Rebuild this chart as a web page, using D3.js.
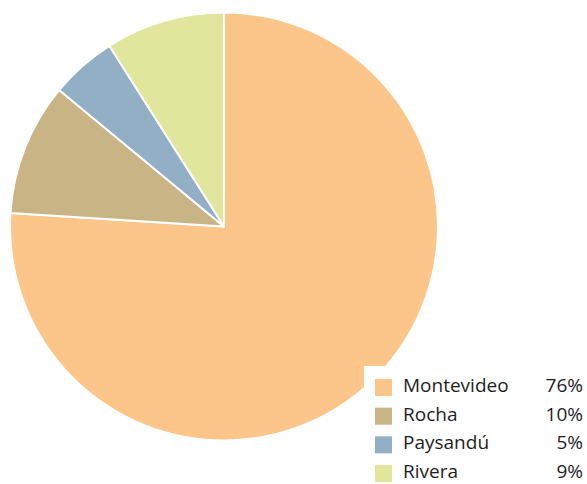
<!DOCTYPE html>
<html>
<head>
<meta charset="utf-8">
<script src="https://cdn.jsdelivr.net/npm/d3@7"></script>
<style>
  body { margin: 0; background: #fff; overflow: hidden; }
  text { font-family: "Open Sans", "Noto Sans", sans-serif; }
</style>
</head>
<body>
<svg id="chart" width="587" height="484"></svg>
<script>
const categories = ["Montevideo", "Rocha", "Paysandú", "Rivera"];
const values = [76, 10, 5, 9];
const labels = ["76%", "10%", "5%", "9%"];
const colors = ["#fcc68a", "#c8b484", "#92afc6", "#e0e79c"];

const width = 587, height = 484;
const cx = 224, cy = 226.5, radius = 214;

const svg = d3.select("#chart");

const color = d3.scaleOrdinal().domain(categories).range(colors);

const pie = d3.pie().sort(null).value(d => d.value);
const arc = d3.arc().innerRadius(0).outerRadius(radius);

const data = categories.map((c, i) => ({ name: c, value: values[i], label: labels[i] }));

svg.append("g")
    .attr("transform", `translate(${cx},${cy})`)
    .selectAll("path")
    .data(pie(data))
    .join("path")
    .attr("d", arc)
    .attr("fill", d => color(d.data.name))
    .attr("stroke", "#fff")
    .attr("stroke-width", 2)
    .attr("stroke-linejoin", "round");

// legend box sits on top of the pie, bottom-right corner
const legend = svg.append("g");
legend.append("rect")
    .attr("x", 364).attr("y", 366)
    .attr("width", width - 364).attr("height", height - 366)
    .attr("fill", "#fff");

// baselines of the legend rows
const rowY = d3.scalePoint().domain(categories).range([392, 478]);

const rows = legend.selectAll("g.row")
    .data(data)
    .join("g")
    .attr("class", "row")
    .attr("transform", d => `translate(0,${rowY(d.name)})`);

rows.append("rect")
    .attr("x", 375).attr("y", -13)
    .attr("width", 17).attr("height", 17)
    .attr("fill", d => color(d.name));

rows.append("text")
    .attr("x", 403).attr("y", 0)
    .attr("font-size", 19)
    .attr("fill", "#1e1e1e")
    .text(d => d.name);

rows.append("text")
    .attr("x", 583).attr("y", 0)
    .attr("text-anchor", "end")
    .attr("font-size", 19)
    .attr("fill", "#1e1e1e")
    .text(d => d.label);
</script>
</body>
</html>
